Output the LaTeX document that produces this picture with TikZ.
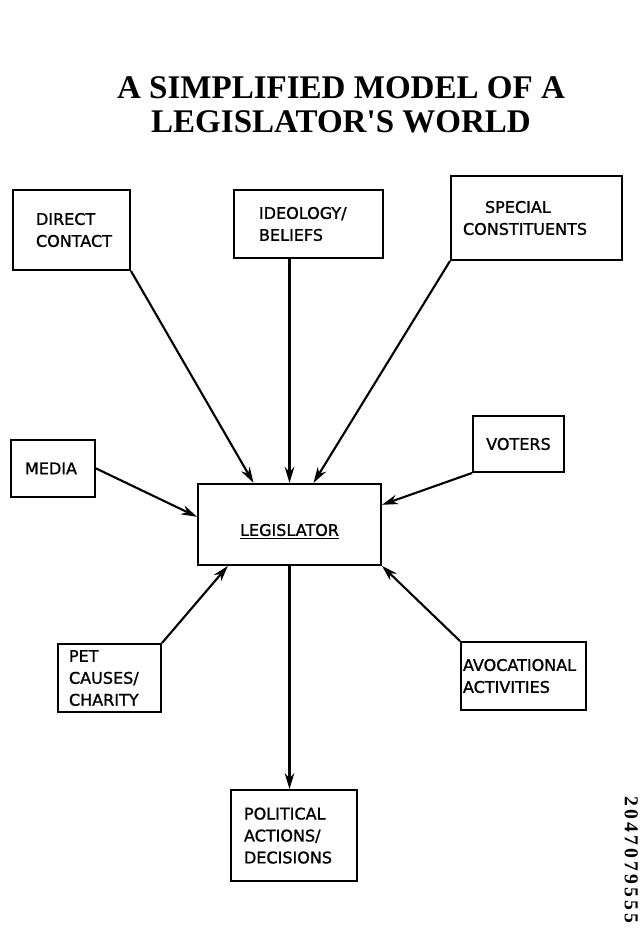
\documentclass[tikz,border=0pt]{standalone}
\usepackage{fontspec}
\setmainfont{Liberation Serif}[Ligatures=TeXOff]
\newfontfamily\leroy{DejaVu Sans}[FakeBold=1.2]
\newfontfamily\batesfont[LetterSpace=16, UprightFont={* Bold}]{Liberation Serif}
\usetikzlibrary{calc}
\usetikzlibrary {arrows.meta}

\begin{document}
\begin{tikzpicture}[
        box/.style={draw=black, line width=1.4pt, rectangle, anchor=west, align=left, inner ysep=0pt,
            font=\leroy\fontsize{11.4}{15.6}\selectfont},
        arr/.style={line width=1.5pt, -{Stealth[length=4mm, width=2.4mm]}}
    ]
        \useasboundingbox (0, 0) rectangle (16.075, -23.275);

        \node[font=\bfseries\fontsize{23.5}{24}\selectfont, align=center] (title) at (8.525, -2.62) {A SIMPLIFIED MODEL OF A\\LEGISLATOR'S WORLD};

        \node[box, text width=1.775cm, inner xsep=0.575cm, minimum height=2cm] (direct) at (0.3, -5.75) {DIRECT\\CONTACT};
        \node[box, text width=2.475cm, inner xsep=0.625cm, minimum height=1.7cm] (ideology) at (5.825, -5.6) {IDEOLOGY/\\BELIEFS};
        \node[box, text width=3.675cm, inner xsep=0.3cm, minimum height=2.1cm] (special) at (11.25, -5.45) {\hspace*{0.55cm}SPECIAL\\CONSTITUENTS};
        \node[box, text width=1.4cm, inner xsep=0.35cm, minimum height=1.425cm] (media) at (0.25, -11.71) {MEDIA\\[0.3cm]};
        \node[box, align=center, text width=1.875cm, inner xsep=0.2cm, minimum height=1.4cm] (voters) at (11.8, -11.1) {VOTERS\\[0.25cm]};
        \node[box, anchor=center, align=center, minimum width=4.575cm, minimum height=2.025cm] (legislator) at (7.2375, -13.11) {\\[0.1cm]\underline{LEGISLATOR}};
        \node[box, text width=2.025cm, inner xsep=0.275cm, minimum height=1.7cm] (pet) at (1.425, -16.95) {PET\\CAUSES/\\CHARITY};
        \node[box, text width=3.025cm, inner xsep=0.05cm, minimum height=1.7cm] (avocational) at (11.5, -16.9) {AVOCATIONAL\\ACTIVITIES};
        \node[box, text width=2.5cm, inner xsep=0.325cm, minimum height=2.275cm] (political) at (5.75, -20.89) {POLITICAL\\ACTIONS/\\DECISIONS};

        \node[font=\batesfont\fontsize{14}{14}\selectfont, rotate=-90] (bates) at (15.78, -21.5) {2047079555};

        \draw[arr] (direct.south east) -- ([xshift=-0.9cm]legislator.north);
        \draw[arr] (ideology.south -| legislator.north) -- (legislator.north);
        \draw[arr] (special.south west) -- ([xshift=0.6cm]legislator.north);
        \draw[arr] (media.east) -- ([yshift=0.19cm]legislator.west);
        \draw[arr] (voters.south west) -- ([yshift=0.49cm]legislator.east);
        \draw[arr] (pet.north east) -- ([xshift=-1.54cm]legislator.south);
        \draw[arr] (avocational.north west) -- (legislator.south east);
        \draw[arr] (legislator.south) -- (legislator.south |- political.north);
    \end{tikzpicture}
\end{document}
